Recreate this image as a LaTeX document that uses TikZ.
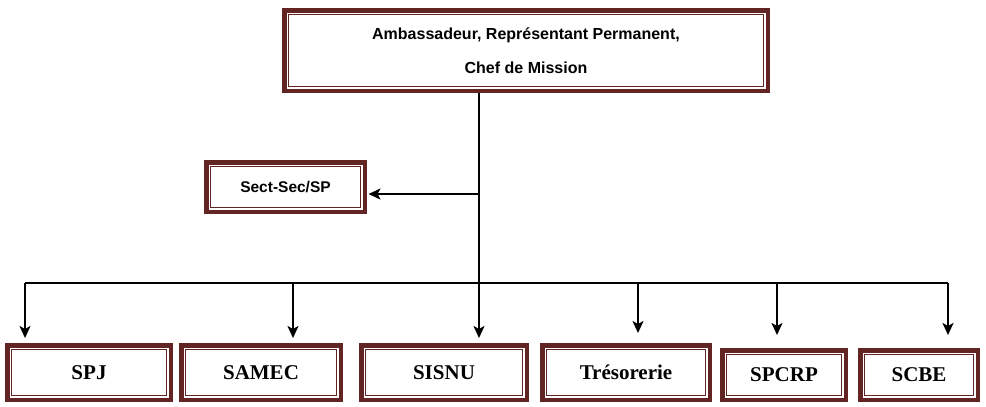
\documentclass[tikz,border=0pt]{standalone}
\usepackage{fontspec}
\setmainfont{Liberation Serif}
\newfontfamily\arialfont{Liberation Sans}
\usetikzlibrary{arrows.meta}
\definecolor{maroon}{HTML}{632523}

\tikzset{
  frame/.style={draw=maroon, line width=4.5pt, inner sep=0pt,
    path picture={\draw[maroon, line width=1.2pt]
      ([shift={(4.4pt,-4.4pt)}]path picture bounding box.north west) rectangle
      ([shift={(-4.4pt,4.4pt)}]path picture bounding box.south east);}},
  unit/.style={frame, font=\bfseries\fontsize{21}{24}\selectfont},
  arr/.style={-{Stealth[length=12pt,width=11pt,inset=3pt]}, line width=2.6pt},
}

\begin{document}
\begin{tikzpicture}[x=1pt,y=-1pt]
\useasboundingbox (0,0) rectangle (986,407);
\node[frame, minimum width=483.5pt, minimum height=80.5pt, align=center,
  font=\arialfont\bfseries\fontsize{16}{34}\selectfont] (chef) at (526,50.5)
  {Ambassadeur, Représentant Permanent,\\Chef de Mission} ;
\node[frame, minimum width=158.5pt, minimum height=49.5pt,
  font=\arialfont\bfseries\fontsize{15.5}{18}\selectfont] (sect) at (285.5,187) {Sect-Sec/SP} ;
\node[unit, minimum width=163.5pt, minimum height=54.5pt] (spj) at (89,372.5) {SPJ} ;
\node[unit, minimum width=159.5pt, minimum height=54.5pt] (samec) at (261,372.5) {SAMEC} ;
\node[unit, minimum width=165.5pt, minimum height=54.5pt] (sisnu) at (444,372.5) {SISNU} ;
\node[unit, minimum width=167.5pt, minimum height=54.5pt] (tres) at (626,372.5) {Trésorerie} ;
\node[unit, minimum width=123.5pt, minimum height=49.5pt] (spcrp) at (784,375) {SPCRP} ;
\node[unit, minimum width=117.5pt, minimum height=49.5pt] (scbe) at (919,375) {SCBE} ;
\coordinate (j0) at (479,194) ;
\coordinate (b1) at (25,283) ;
\coordinate (b2) at (293,283) ;
\coordinate (b3) at (479,283) ;
\coordinate (b4) at (638,283) ;
\coordinate (b5) at (777,283) ;
\coordinate (b6) at (948,283) ;
\draw[arr, shorten >=5pt] (chef.south -| b3) to (b3 |- sisnu.north) ;
\draw[arr, shorten >=1.5pt] (j0) to (j0 -| sect.east) ;
\draw[line width=2.6pt] (b1) to (b6) ;
\draw[arr, shorten >=5pt] (b1) to (b1 |- spj.north) ;
\draw[arr, shorten >=5pt] (b2) to (b2 |- samec.north) ;
\draw[arr, shorten >=10pt] (b4) to (b4 |- tres.north) ;
\draw[arr, shorten >=13pt] (b5) to (b5 |- spcrp.north) ;
\draw[arr, shorten >=13pt] (b6) to (b6 |- scbe.north) ;
\end{tikzpicture}
\end{document}
